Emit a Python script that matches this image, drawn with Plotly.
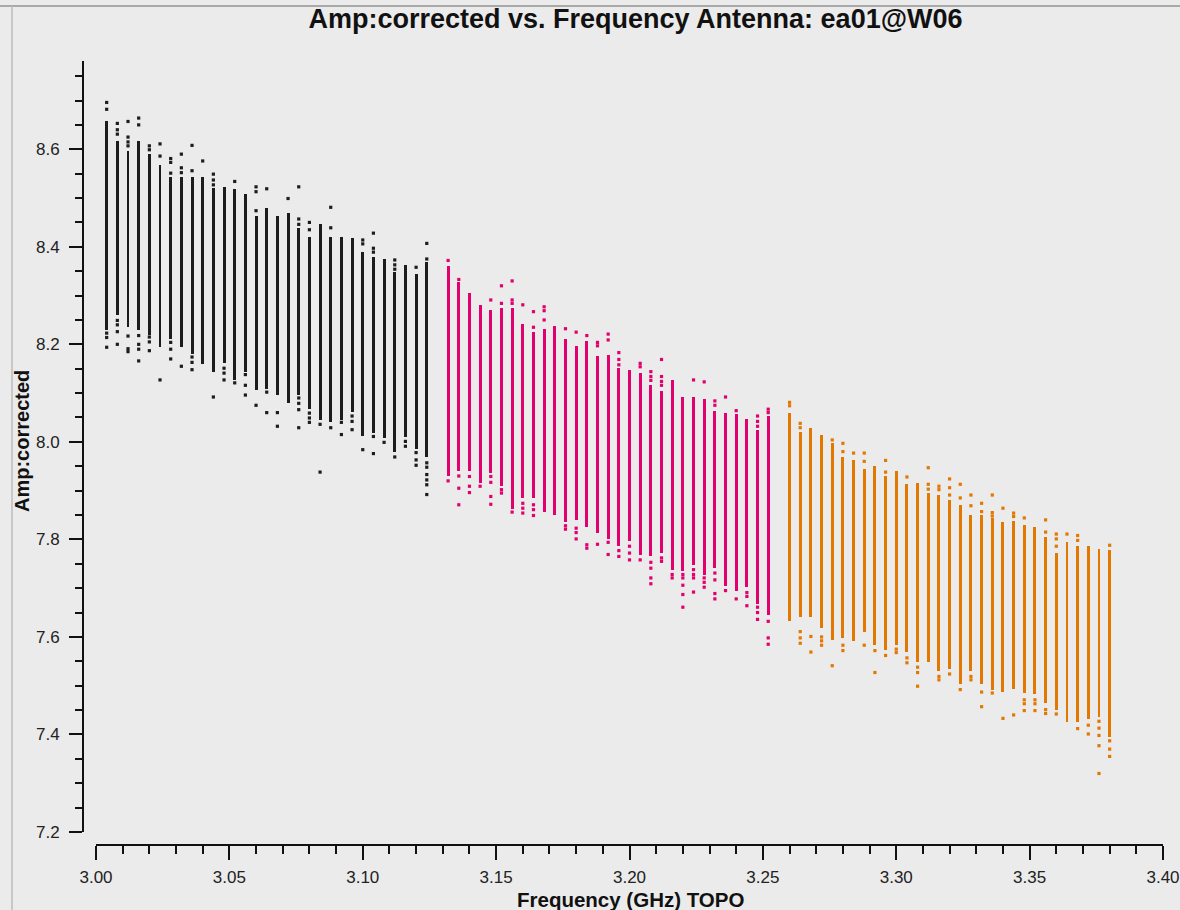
import plotly.graph_objects as go

# ---------------- data ----------------
freq_spw0 = [3.004, 3.008, 3.012, 3.016, 3.020, 3.024, 3.028, 3.032, 3.036, 3.040, 3.044,
             3.048, 3.052, 3.056, 3.060, 3.064, 3.068, 3.072, 3.076, 3.080, 3.084, 3.088,
             3.092, 3.096, 3.100, 3.104, 3.108, 3.112, 3.116, 3.120, 3.124]
freq_spw1 = [3.132, 3.136, 3.140, 3.144, 3.148, 3.152, 3.156, 3.160, 3.164, 3.168, 3.172,
             3.176, 3.180, 3.184, 3.188, 3.192, 3.196, 3.200, 3.204, 3.208, 3.212, 3.216,
             3.220, 3.224, 3.228, 3.232, 3.236, 3.240, 3.244, 3.248, 3.252]
freq_spw2 = [3.260, 3.264, 3.268, 3.272, 3.276, 3.280, 3.284, 3.288, 3.292, 3.296, 3.300,
             3.304, 3.308, 3.312, 3.316, 3.320, 3.324, 3.328, 3.332, 3.336, 3.340, 3.344,
             3.348, 3.352, 3.356, 3.360, 3.364, 3.368, 3.372, 3.376, 3.380]

# dense-column extent per channel (top / bottom)
hi_spw0 = [8.659, 8.617, 8.597, 8.617, 8.590, 8.568, 8.544, 8.544, 8.544, 8.544, 8.520,
           8.522, 8.519, 8.508, 8.463, 8.480, 8.463, 8.470, 8.439, 8.421, 8.446, 8.421,
           8.421, 8.418, 8.390, 8.379, 8.375, 8.348, 8.362, 8.344, 8.368]
lo_spw0 = [8.230, 8.260, 8.235, 8.230, 8.220, 8.194, 8.211, 8.194, 8.181, 8.159, 8.144,
           8.161, 8.127, 8.144, 8.107, 8.108, 8.096, 8.079, 8.097, 8.067, 8.045, 8.040,
           8.045, 8.062, 8.013, 8.018, 8.008, 7.980, 8.010, 7.985, 7.969]
hi_spw1 = [8.361, 8.327, 8.305, 8.281, 8.271, 8.274, 8.274, 8.242, 8.225, 8.232, 8.238,
           8.210, 8.197, 8.207, 8.176, 8.179, 8.151, 8.148, 8.141, 8.116, 8.105, 8.126,
           8.092, 8.092, 8.088, 8.064, 8.059, 8.057, 8.046, 8.025, 8.053]
lo_spw1 = [7.930, 7.941, 7.941, 7.915, 7.937, 7.910, 7.862, 7.885, 7.885, 7.857, 7.850,
           7.835, 7.839, 7.825, 7.814, 7.801, 7.787, 7.797, 7.769, 7.765, 7.772, 7.738,
           7.736, 7.748, 7.728, 7.741, 7.705, 7.695, 7.702, 7.667, 7.644]
hi_spw2 = [8.060, 8.021, 8.028, 8.014, 7.997, 7.969, 7.962, 7.945, 7.951, 7.930, 7.941,
           7.913, 7.915, 7.895, 7.891, 7.881, 7.870, 7.850, 7.850, 7.843, 7.835, 7.838,
           7.829, 7.825, 7.805, 7.772, 7.794, 7.787, 7.787, 7.780, 7.779]
lo_spw2 = [7.633, 7.640, 7.640, 7.618, 7.594, 7.598, 7.591, 7.611, 7.583, 7.574, 7.583,
           7.570, 7.549, 7.548, 7.531, 7.534, 7.503, 7.531, 7.503, 7.492, 7.488, 7.493,
           7.485, 7.482, 7.464, 7.451, 7.426, 7.426, 7.432, 7.436, 7.394]

# isolated points per channel
out_spw0 = [
    [8.696, 8.682, 8.223, 8.214, 8.194],
    [8.653, 8.640, 8.631, 8.249, 8.240, 8.226, 8.200],
    [8.657, 8.625, 8.615, 8.607, 8.217, 8.191, 8.185],
    [8.664, 8.650, 8.218, 8.200, 8.190, 8.166],
    [8.607, 8.599, 8.215, 8.205, 8.187],
    [8.611, 8.586, 8.127],
    [8.581, 8.573, 8.551, 8.204, 8.190, 8.170],
    [8.590, 8.562, 8.552, 8.155],
    [8.608, 8.556, 8.174, 8.163, 8.148],
    [8.576],
    [8.549, 8.537, 8.527, 8.092],
    [8.151, 8.141, 8.127],
    [8.534, 8.121],
    [8.138, 8.116, 8.096],
    [8.523, 8.513, 8.474, 8.075],
    [8.519, 8.102, 8.060],
    [8.060, 8.032],
    [8.499],
    [8.523, 8.457, 8.446, 8.090, 8.079, 8.066, 8.029],
    [8.450, 8.435, 8.059, 8.049, 8.040],
    [8.036, 7.938],
    [8.481, 8.439, 8.029],
    [8.040, 8.015],
    [8.053, 8.042, 8.025],
    [8.414, 8.406, 7.984],
    [8.428, 8.397, 8.389, 8.011, 7.976],
    [7.999],
    [8.373, 8.363, 8.354, 7.969],
    [8.001, 7.991],
    [8.358, 7.978, 7.963, 7.952],
    [8.407, 8.375, 7.957, 7.948, 7.933, 7.922, 7.912, 7.892],
]
out_spw1 = [
    [8.372, 7.920],
    [8.333, 7.930, 7.905, 7.871],
    [7.929, 7.909, 7.896],
    [7.909],
    [8.291, 7.929, 7.917, 7.888, 7.872],
    [8.320, 8.284, 7.902, 7.895],
    [8.330, 8.291, 8.284, 7.856],
    [8.281, 7.874, 7.864, 7.854],
    [8.267, 8.235, 7.871, 7.861, 7.849],
    [8.277, 8.269, 8.250],
    [],
    [8.232, 7.828, 7.821],
    [8.225, 7.823, 7.814, 7.801],
    [8.218, 7.789, 7.782],
    [8.204, 8.197, 7.790],
    [8.221, 8.209, 7.794, 7.769],
    [8.183, 8.169, 8.158, 7.777, 7.765],
    [7.786, 7.772, 7.758],
    [8.161, 8.154, 7.758],
    [8.144, 8.134, 8.126, 7.753, 7.741, 7.721, 7.709],
    [8.169, 8.134, 8.124, 8.116, 7.762, 7.755],
    [7.728, 7.721],
    [7.728, 7.721, 7.706, 7.687, 7.661],
    [8.127, 7.738, 7.728, 7.721, 7.692],
    [8.123, 7.721, 7.712, 7.702],
    [8.084, 8.075, 7.731, 7.717, 7.689, 7.678],
    [8.092, 7.695],
    [8.064, 7.678],
    [7.691, 7.683, 7.664],
    [8.053, 8.042, 8.032, 7.661, 7.650, 7.636],
    [8.067, 8.060, 7.632, 7.598, 7.585],
]
out_spw2 = [
    [8.081, 8.074],
    [8.038, 8.029, 7.611, 7.598, 7.587],
    [7.601, 7.569],
    [7.600, 7.592, 7.583],
    [8.004, 7.541],
    [7.997, 7.980, 7.583, 7.572],
    [7.977],
    [7.977, 7.960, 7.583],
    [7.572, 7.527],
    [7.962, 7.938, 7.562],
    [7.575, 7.568],
    [7.928, 7.557, 7.547],
    [7.538, 7.527, 7.499],
    [7.947, 7.913, 7.903],
    [7.909, 7.902, 7.519, 7.512],
    [7.924, 7.906, 7.891, 7.524],
    [7.913, 7.885, 7.492],
    [7.891, 7.869, 7.519, 7.512],
    [7.874, 7.857, 7.487, 7.457],
    [7.891, 7.855, 7.848, 7.485],
    [7.864, 7.433],
    [7.854, 7.847, 7.440],
    [7.844, 7.471, 7.463, 7.449],
    [7.471, 7.463, 7.449],
    [7.840, 7.815, 7.451, 7.443],
    [7.811, 7.801, 7.786, 7.442],
    [7.811],
    [7.808, 7.798, 7.412],
    [7.419, 7.401],
    [7.427, 7.413, 7.398, 7.377, 7.320],
    [7.788, 7.387, 7.370, 7.355],
]

x_ticks = [3.00, 3.05, 3.10, 3.15, 3.20, 3.25, 3.30, 3.35, 3.40]
y_ticks = [7.2, 7.4, 7.6, 7.8, 8.0, 8.2, 8.4, 8.6, 8.8]

colors = ["#1c1c1c", "#e2006e", "#e27800"]

# ---------------- figure ----------------
fig = go.Figure()
spws = [
    (freq_spw0, hi_spw0, lo_spw0, out_spw0, colors[0]),
    (freq_spw1, hi_spw1, lo_spw1, out_spw1, colors[1]),
    (freq_spw2, hi_spw2, lo_spw2, out_spw2, colors[2]),
]
for freqs, hi, lo, outs, col in spws:
    fig.add_trace(go.Bar(
        x=freqs, y=[h - l for h, l in zip(hi, lo)], base=lo, width=0.0011,
        marker=dict(color=col, line=dict(width=0)), showlegend=False,
        hoverinfo="skip"))
    ox, oy = [], []
    for f, pts in zip(freqs, outs):
        for p in pts:
            ox.append(f)
            oy.append(p)
    fig.add_trace(go.Scatter(
        x=ox, y=oy, mode="markers",
        marker=dict(symbol="square", size=3.2, color=col, line=dict(width=0)),
        showlegend=False, hoverinfo="skip"))

W, H = 1180, 910
ml, mr, mt, mb = 83, 17, 61, 65
pw, ph = W - ml - mr, H - mt - mb

def px_x(p):
    return (p - ml) / pw

def px_y(p):
    return (H - mb - p) / ph

axis_col = "#111111"
tick_font = dict(family="Liberation Sans, Arial, sans-serif", size=17, color="#222222")
bold_font = "Liberation Sans, Arial, sans-serif"

fig.update_layout(
    width=W, height=H,
    margin=dict(l=ml, r=mr, t=mt, b=mb, autoexpand=False),
    paper_bgcolor="#ebebeb", plot_bgcolor="#ebebeb",
    barmode="overlay", bargap=0,
    title=dict(text="<b>Amp:corrected vs. Frequency Antenna: ea01@W06</b>",
               x=px_x(635.5), xref="paper", xanchor="center",
               y=1 - 19 / H, yref="container", yanchor="middle",
               font=dict(family=bold_font, size=27, color="#111111")),
    xaxis=dict(
        domain=[px_x(96), 1], range=[3.0, 3.4], anchor="free", position=0,
        showline=True, linecolor=axis_col, linewidth=2,
        ticks="outside", ticklen=14, tickwidth=1.5, tickcolor=axis_col,
        tickvals=x_ticks, ticktext=["%.2f" % v for v in x_ticks],
        minor=dict(dtick=0.01, tick0=3.0, ticks="outside", ticklen=8,
                   tickwidth=1.5, tickcolor=axis_col),
        showgrid=False, zeroline=False, tickfont=tick_font,
        ticklabelstandoff=3, ticklabeloverflow="allow"),
    yaxis=dict(
        domain=[px_y(832), 1], range=[7.2, 8.781], anchor="free", position=0,
        showline=True, linecolor=axis_col, linewidth=2,
        ticks="outside", ticklen=13, tickwidth=1.5, tickcolor=axis_col,
        tickvals=y_ticks, ticktext=["%.1f" % v for v in y_ticks],
        minor=dict(dtick=0.05, tick0=7.2, ticks="outside", ticklen=7,
                   tickwidth=1.5, tickcolor=axis_col),
        showgrid=False, zeroline=False, tickfont=tick_font,
        ticklabelstandoff=6, ticklabeloverflow="allow"),
    annotations=[
        dict(text="<b>Amp:corrected</b>", xref="paper", yref="paper",
             x=px_x(22), y=px_y(441), textangle=-90, showarrow=False,
             xanchor="center", yanchor="middle",
             font=dict(family=bold_font, size=20, color="#111111")),
        dict(text="<b>Frequency (GHz) TOPO</b>", xref="paper", yref="paper",
             x=px_x(630), y=px_y(899.5), showarrow=False,
             xanchor="center", yanchor="middle",
             font=dict(family=bold_font, size=20.5, color="#111111")),
    ],
    shapes=[
        dict(type="line", xref="paper", yref="paper",
             x0=px_x(0), x1=px_x(W), y0=px_y(6), y1=px_y(6),
             line=dict(color="#a9a9a9", width=2)),
        dict(type="line", xref="paper", yref="paper",
             x0=px_x(12), x1=px_x(12), y0=px_y(6), y1=px_y(H),
             line=dict(color="#bdbdbd", width=1.5)),
    ],
)

fig.write_html("out.html",
               config=dict(displayModeBar=False),
               post_script="document.body.style.margin='0';"
                           "document.body.style.overflow='hidden';")
